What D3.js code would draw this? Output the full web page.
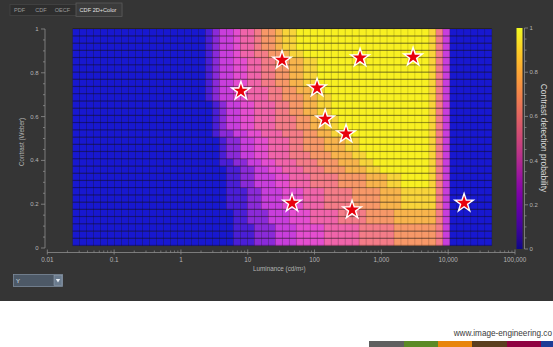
<!DOCTYPE html>
<html><head><meta charset="utf-8">
<script src="https://cdn.jsdelivr.net/npm/d3@7"></script>
<style>html,body{margin:0;padding:0;background:#fff;} svg{display:block;font-family:"Liberation Sans",Arial,sans-serif;}</style>
</head><body><svg id="c" width="553" height="347"></svg>
<script>
// ---------- data ----------
const tabs = ["PDF", "CDF", "OECF", "CDF 2D+Color"];
const xTicks = [0.01, 0.1, 1, 10, 100, 1000, 10000, 100000];
const xTickLabels = ["0.01", "0.1", "1", "10", "100", "1,000", "10,000", "100,000"];
const yTicks = [0, 0.2, 0.4, 0.6, 0.8, 1];
const yTickLabels = ["0", "0.2", "0.4", "0.6", "0.8", "1"];
const cbTicks = [0, 0.2, 0.4, 0.6, 0.8, 1];
const cbTickLabels = ["0", "0.2", "0.4", "0.6", "0.8", "1"];
const lumRange = [0.024, 45000];   // luminance extent of the grid (cd/m²)
const conRange = [0.01, 1];        // contrast extent of the grid
// detection probability per cell, top row (contrast 1) first; digit = tenths, A = 1.0
const probRows = [
  "0000000000|0000000001|2334556778|99AAAAAAAA|AAAAAAAAAA|A963000000",
  "0000000000|0000000001|2334556778|99AAAAAAAA|AAAAAAAAAA|A963000000",
  "0000000000|0000000001|2334556778|99AAAAAAAA|AAAAAAAAAA|A963000000",
  "0000000000|0000000001|2334556677|899AAAAAAA|AAAAAAAAAA|A963000000",
  "0000000000|0000000001|2334455667|78899AAAAA|AAAAAAAAAA|A963000000",
  "0000000000|0000000001|2334455667|78899AAAAA|AAAAAAAAAA|A963000000",
  "0000000000|0000000001|2334455667|78899AAAAA|AAAAAAAAAA|A963000000",
  "0000000000|0000000001|2334455667|78899AAAAA|AAAAAAAAAA|A963000000",
  "0000000000|0000000001|2334455566|778899AAAA|AAAAAAAAAA|A963000000",
  "0000000000|0000000001|2334455566|7778899AAA|AAAAAAAAAA|A963000000",
  "0000000000|0000000000|1233445556|6778899AAA|AAAAAAAAAA|A963000000",
  "0000000000|0000000000|1233445556|6778899AAA|AAAAAAAAAA|A963000000",
  "0000000000|0000000000|1233445556|66778899AA|AAAAAAAAAA|A963000000",
  "0000000000|0000000000|1233445556|66778899AA|AAAAAAAAAA|A963000000",
  "0000000000|0000000000|1223344555|666778899A|AAAAAAAAAA|A963000000",
  "0000000000|0000000000|0122334455|5667778889|9AAAAAAAAA|A963000000",
  "0000000000|0000000000|0122334455|5667778889|9AAAAAAAAA|A963000000",
  "0000000000|0000000000|0122334455|5666777888|99AAAAAAAA|A963000000",
  "0000000000|0000000000|0112233445|5566677788|899AAAAAAA|A963000000",
  "0000000000|0000000000|0011223344|5556667778|8899AAAAAA|A963000000",
  "0000000000|0000000000|0011223334|4555666677|7788899AAA|A963000000",
  "0000000000|0000000000|0011223334|4555666677|7788899AAA|A963000000",
  "0000000000|0000000000|0011122333|4445556666|7777888999|9963000000",
  "0000000000|0000000000|0011122333|4445556666|7777888999|9963000000",
  "0000000000|0000000000|0011122333|4445556666|7777888999|9963000000",
  "0000000000|0000000000|0001122233|3444555566|6677778888|8863000000",
  "0000000000|0000000000|0001122233|3444555566|6677778888|8863000000",
  "0000000000|0000000000|0001112223|3344445555|5666667777|7763000000",
  "0000000000|0000000000|0001112223|3344445555|5666667777|7763000000",
  "0000000000|0000000000|0001112223|3344445555|5666667777|7763000000"
];
const starLum = [32.6, 480, 2985, 7.9, 109, 144, 296, 46, 364, 17300];
const starCon = [0.858, 0.868, 0.872, 0.717, 0.731, 0.589, 0.521, 0.205, 0.174, 0.205];
const footerText = "www.image-engineering.co";
const footerColors = ["#5f5f5f", "#5b8a26", "#e8850c", "#5a3e1e", "#8e0040", "#1c3c96"];

// ---------- parse grid ----------
const grid = probRows.map((s, i) => {
  const t = s.replace(/\|/g, "");
  if (t.length !== 60) throw new Error("row " + i + " has length " + t.length);
  return t.split("").map(ch => ch === "A" ? 1 : (+ch) / 10);
});
const nRows = grid.length, nCols = grid[0].length;

// ---------- layout ----------
const svg = d3.select("#c");
const W = 553, H = 347;
svg.append("rect").attr("width", W).attr("height", H).attr("fill", "#ffffff");
svg.append("rect").attr("width", W).attr("height", 301).attr("fill", "#353535");

const x = d3.scaleLog().domain([0.01, 100000]).range([47.3, 515]);
const y = d3.scaleLinear().domain([0, 1]).range([248, 29]);

// tabs
const tabG = svg.append("g");
tabG.append("rect").attr("x", 10).attr("y", 4.5).attr("width", 112).attr("height", 11)
  .attr("fill", "#2e2e2e").attr("stroke", "#454545").attr("stroke-width", 0.8);
tabG.append("rect").attr("x", 76).attr("y", 3).attr("width", 46).attr("height", 13.5)
  .attr("fill", "#3b3b3b").attr("stroke", "#5a5a5a").attr("stroke-width", 0.8);
const tabCx = [19.5, 41, 62.5, 98];
tabs.forEach((t, i) => {
  tabG.append("text").attr("x", tabCx[i]).attr("y", 12).attr("text-anchor", "middle")
    .attr("font-size", 5.6).attr("fill", i === 3 ? "#e0e0e0" : "#9a9a9a").text(t);
});

// heatmap
const heatColor = d3.scaleLinear()
  .domain([0, 0.1, 0.2, 0.3, 0.4, 0.5, 0.6, 0.7, 0.8, 0.9, 1])
  .range(["#1818d0", "#4a1ed6", "#8a2ad8", "#c83edc", "#e44ed0", "#f064aa", "#f47c88",
          "#f79868", "#f8b44c", "#f8d43a", "#f8f022"]);
const lLo = Math.log10(lumRange[0]), lHi = Math.log10(lumRange[1]);
const lumEdges = d3.range(nCols + 1).map(j => Math.pow(10, lLo + (lHi - lLo) * j / nCols));
const conEdges = d3.range(nRows + 1).map(i => conRange[1] - (conRange[1] - conRange[0]) * i / nRows);

const cells = [];
grid.forEach((row, i) => row.forEach((v, j) => cells.push({ i, j, v })));
const hm = svg.append("g");
hm.selectAll("rect.cell").data(cells).join("rect").attr("class", "cell")
  .attr("x", d => x(lumEdges[d.j]))
  .attr("y", d => y(conEdges[d.i]))
  .attr("width", d => x(lumEdges[d.j + 1]) - x(lumEdges[d.j]))
  .attr("height", d => y(conEdges[d.i + 1]) - y(conEdges[d.i]))
  .attr("fill", d => heatColor(d.v))
  .attr("stroke", "rgba(0,0,0,0.16)").attr("stroke-width", 0.6);
// darker row separators
hm.selectAll("line.rowsep").data(conEdges).join("line").attr("class", "rowsep")
  .attr("x1", x(lumEdges[0])).attr("x2", x(lumEdges[nCols]))
  .attr("y1", d => y(d) - 0.5).attr("y2", d => y(d) - 0.5)
  .attr("stroke", "rgba(20,10,0,0.32)").attr("stroke-width", 1);

// stars
const star = d3.symbol().type(d3.symbolStar).size(105);
svg.append("g").selectAll("path").data(starLum).join("path")
  .attr("transform", (d, i) => `translate(${x(d)},${y(starCon[i])})`)
  .attr("d", star).attr("fill", "#e8000c").attr("stroke", "#ffffff").attr("stroke-width", 1.4)
  .attr("stroke-linejoin", "miter");

// axes style
const axCol = "#8e8e8e", lblCol = "#b4b4b4";

// y axis
const ya = svg.append("g");
ya.append("line").attr("x1", 45).attr("x2", 45).attr("y1", y(1)).attr("y2", y(0))
  .attr("stroke", axCol).attr("stroke-width", 0.8);
const yMinor = d3.range(0, 1.0001, 0.05);
ya.selectAll("line.mt").data(yMinor).join("line").attr("class", "mt")
  .attr("x1", d => (Math.round(d * 100) % 20 === 0) ? 41 : 43).attr("x2", 45)
  .attr("y1", d => y(d)).attr("y2", d => y(d)).attr("stroke", axCol).attr("stroke-width", 0.8);
ya.selectAll("text").data(yTicks).join("text")
  .attr("x", 38.5).attr("y", d => y(d) + 2).attr("text-anchor", "end")
  .attr("font-size", 6).attr("fill", lblCol).text((d, i) => yTickLabels[i]);
svg.append("text").attr("transform", "translate(24,142) rotate(-90)").attr("text-anchor", "middle")
  .attr("font-size", 6.3).attr("fill", lblCol).text("Contrast (Weber)");

// x axis
const xa = svg.append("g");
const axY = 252.5;
xa.append("line").attr("x1", x(0.01)).attr("x2", x(100000)).attr("y1", axY).attr("y2", axY)
  .attr("stroke", axCol).attr("stroke-width", 0.8);
const xMinor = [];
for (let e = -2; e < 5; e++) for (let m = 2; m <= 9; m++) xMinor.push(m * Math.pow(10, e));
xa.selectAll("line.mn").data(xMinor).join("line").attr("class", "mn")
  .attr("x1", d => x(d)).attr("x2", d => x(d)).attr("y1", axY - 2).attr("y2", axY)
  .attr("stroke", axCol).attr("stroke-width", 0.7);
xa.selectAll("line.mj").data(xTicks).join("line").attr("class", "mj")
  .attr("x1", d => x(d)).attr("x2", d => x(d)).attr("y1", axY - 3).attr("y2", axY + 2)
  .attr("stroke", axCol).attr("stroke-width", 0.8);
xa.selectAll("text").data(xTicks).join("text")
  .attr("x", d => x(d)).attr("y", 262).attr("text-anchor", "middle")
  .attr("font-size", 6.3).attr("fill", lblCol).text((d, i) => xTickLabels[i]);
svg.append("text").attr("x", 253).attr("y", 270.5).attr("font-size", 6.3).attr("fill", lblCol)
  .text("Luminance (cd/m²)");

// colorbar
const cb = d3.scaleLinear().domain([0, 1]).range([249, 28]);
const defs = svg.append("defs");
const grad = defs.append("linearGradient").attr("id", "cbg").attr("x1", 0).attr("x2", 0).attr("y1", 1).attr("y2", 0);
d3.range(0, 1.0001, 0.05).forEach(t => grad.append("stop").attr("offset", t).attr("stop-color", d3.interpolatePlasma(t)));
svg.append("rect").attr("x", 516.5).attr("y", cb(1)).attr("width", 6).attr("height", cb(0) - cb(1))
  .attr("fill", "url(#cbg)");
const cba = svg.append("g");
cba.append("line").attr("x1", 524.5).attr("x2", 524.5).attr("y1", cb(1)).attr("y2", cb(0))
  .attr("stroke", axCol).attr("stroke-width", 0.8);
cba.selectAll("line.t").data(d3.range(0, 1.0001, 0.05)).join("line").attr("class", "t")
  .attr("x1", 524.5).attr("x2", d => (Math.round(d * 100) % 20 === 0) ? 528 : 526.5)
  .attr("y1", d => cb(d)).attr("y2", d => cb(d)).attr("stroke", axCol).attr("stroke-width", 0.8);
cba.selectAll("text").data(cbTicks).join("text")
  .attr("x", 529.5).attr("y", d => cb(d) + 2).attr("font-size", 6).attr("fill", lblCol)
  .text((d, i) => cbTickLabels[i]);
svg.append("text").attr("transform", "translate(541,138) rotate(90)").attr("text-anchor", "middle")
  .attr("font-size", 8.4).attr("fill", "#d8d8d8").text("Contrast detection probability");

// dropdown
const dd = svg.append("g");
dd.append("rect").attr("x", 13.5).attr("y", 274.5).attr("width", 49).attr("height", 12)
  .attr("fill", "#4d5967").attr("stroke", "#7d8c9c").attr("stroke-width", 0.8);
dd.append("rect").attr("x", 54).attr("y", 275.5).attr("width", 8).attr("height", 10)
  .attr("fill", "#6a7b8e").attr("stroke", "#9aa8b6").attr("stroke-width", 0.5);
dd.append("path").attr("d", "M55.8,279 L60.2,279 L58,282.5 Z").attr("fill", "#e8eef4");
dd.append("text").attr("x", 16).attr("y", 283).attr("font-size", 6).attr("fill", "#dde3ea").text("Y");

// footer
svg.append("text").attr("x", 552).attr("y", 336).attr("text-anchor", "end")
  .attr("font-size", 8.2).attr("fill", "#3a3a3a").text(footerText);
const fx = [369, 404, 438, 472, 507, 541, 576];
svg.append("g").selectAll("rect").data(footerColors).join("rect")
  .attr("x", (d, i) => fx[i]).attr("y", 341).attr("width", (d, i) => fx[i + 1] - fx[i]).attr("height", 6)
  .attr("fill", d => d);
</script></body></html>
